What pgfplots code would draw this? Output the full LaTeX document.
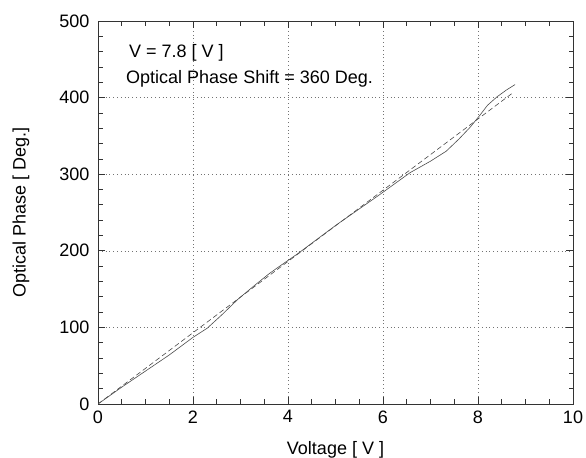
\documentclass[border=0pt]{standalone}
\usepackage{fontspec}
\setmainfont{Liberation Sans}
\usepackage{pgfplots}
\pgfplotsset{compat=1.18}
\begin{document}
\begin{tikzpicture}
\path[use as bounding box] (0,0) rectangle (586bp,458bp);
\begin{axis}[
  at={(98bp,54bp)}, anchor=south west,
  scale only axis, width=475bp, height=383bp,
  xmin=0, xmax=10, ymin=0, ymax=500,
  xtick={0,2,...,10}, ytick={0,100,...,500},
  minor x tick num=3, minor y tick num=4,
  grid=major,
  major grid style={dash pattern=on 0.8bp off 3bp, black!55, line width=0.6bp},
  axis line style={black!80, line width=0.8bp},
  tick style={black!80, line width=0.7bp},
  minor tick style={black!80, line width=0.7bp},
  major tick length=7bp, minor tick length=4.5bp,
  /pgf/number format/assume math mode=true,
  tick label style={font=\fontsize{18bp}{21bp}\selectfont},
  xticklabel style={yshift=-3bp},
  yticklabel style={xshift=-5bp},
  label style={font=\fontsize{18bp}{21bp}\selectfont},
  xlabel={Voltage [ V ]},
  ylabel={Optical Phase [ Deg.]},
  xlabel style={at={(axis description cs:0.5,0)}, anchor=base, yshift=-50bp},
  ylabel style={at={(axis description cs:0,0.5)}, anchor=center, yshift=77bp},
]
% linear fit (dashed)
\addplot[black!70, line width=0.6bp, dash pattern=on 5bp off 3bp] coordinates {
  (0,0) (8.75,407)
};
% measured phase (solid)
\addplot[black!70, line width=0.6bp] coordinates {
  (0,0) (0.5,22) (1,43) (1.5,64) (2,87) (2.3,99) (2.6,116) (2.95,137)
  (3.3,155) (3.6,170) (3.85,181) (4.2,196) (5,233) (5.9,272) (6.57,302)
  (7,317) (7.33,330) (7.6,346) (7.83,361) (8.04,377) (8.2,390) (8.4,401)
  (8.6,410) (8.78,417)
};
\node[anchor=base west, inner sep=0pt, font=\fontsize{18bp}{21bp}\selectfont] at (axis cs:0.65,453) {V = 7.8 [ V ]};
\node[anchor=base west, inner sep=0pt, font=\fontsize{18bp}{21bp}\selectfont] at (axis cs:0.59,418) {Optical Phase Shift = 360 Deg.};
\end{axis}
\end{tikzpicture}
\end{document}
